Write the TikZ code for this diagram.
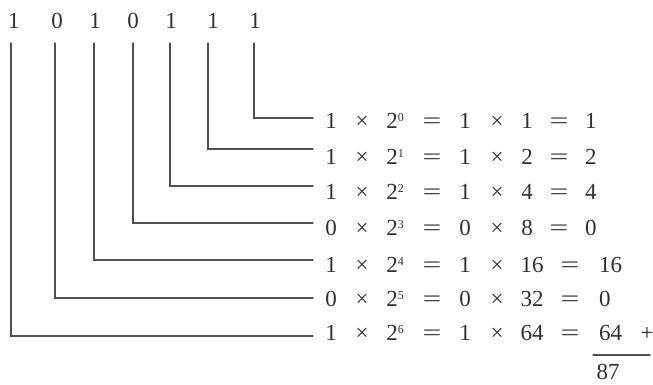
\documentclass[tikz,border=0pt]{standalone}
\usepackage{fontspec}
\usepackage{graphicx}
\setmainfont{Liberation Serif}
\definecolor{ink}{HTML}{303030}
\definecolor{rule}{HTML}{505050}
\newcommand{\eqwide}{\scalebox{1.45}[1]{=}}
\newcommand{\supk}[1]{\raisebox{7pt}{\fontsize{12}{12}\selectfont #1}}
\begin{document}
\begin{tikzpicture}[x=1pt,y=-1pt,
  tok/.style={anchor=base,inner sep=0pt,text=ink,font=\fontsize{23}{27}\selectfont},
  tokw/.style={tok,anchor=base west},
  conn/.style={draw=rule,line width=1.2pt,line cap=round}]
\useasboundingbox (0,0) rectangle (653,384);
% top digits
\foreach \x/\d [count=\i from 0] in {14/1,57/0,95/1,133/0,171/1,213/1,255/1}
  \node[tok] (d\i) at (\x,28) {\d};
% rows 0..3
\foreach \k/\a/\p/\r/\y in {0/1/1/1/128,1/1/2/2/164,2/1/4/4/199,3/0/8/0/235}{
  \node[tok] (a\k) at (331,\y) {\a};
  \node[tok] (m\k) at (362,\y) {×};
  \node[tok] (q\k) at (395,\y) {2\supk{\k}};
  \node[tok] (e\k) at (432,\y) {\eqwide};
  \node[tok] (b\k) at (465,\y) {\a};
  \node[tok] (n\k) at (497,\y) {×};
  \node[tok] (p\k) at (527,\y) {\p};
  \node[tok] (f\k) at (559,\y) {\eqwide};
  \node[tokw] (r\k) at (585,\y) {\r};
}
% rows 4..6
\foreach \k/\a/\p/\r/\y in {4/1/16/16/272,5/0/32/0/306,6/1/64/64/340}{
  \node[tok] (a\k) at (331,\y) {\a};
  \node[tok] (m\k) at (362,\y) {×};
  \node[tok] (q\k) at (395,\y) {2\supk{\k}};
  \node[tok] (e\k) at (432,\y) {\eqwide};
  \node[tok] (b\k) at (465,\y) {\a};
  \node[tok] (n\k) at (497,\y) {×};
  \node[tok] (p\k) at (532,\y) {\p};
  \node[tok] (f\k) at (570,\y) {\eqwide};
  \node[tokw] (r\k) at (599,\y) {\r};
}
\node[tok] (plus) at (647,340) {+};
\node[tok] (sum) at (608,379) {87};
\coordinate (u1) at (593,355);
\coordinate (u2) at (650,355);
\draw[conn] (u1) -- (u2);
% connectors
\foreach \x/\y/\k in {254/118/0,208/149/1,170/186/2,133/223/3,94/260/4,55/298/5,11/336/6}{
  \coordinate (s\k) at (\x,43);
  \coordinate (t\k) at (313,\y);
  \draw[conn] (s\k) |- (t\k);
}
\end{tikzpicture}
\end{document}
